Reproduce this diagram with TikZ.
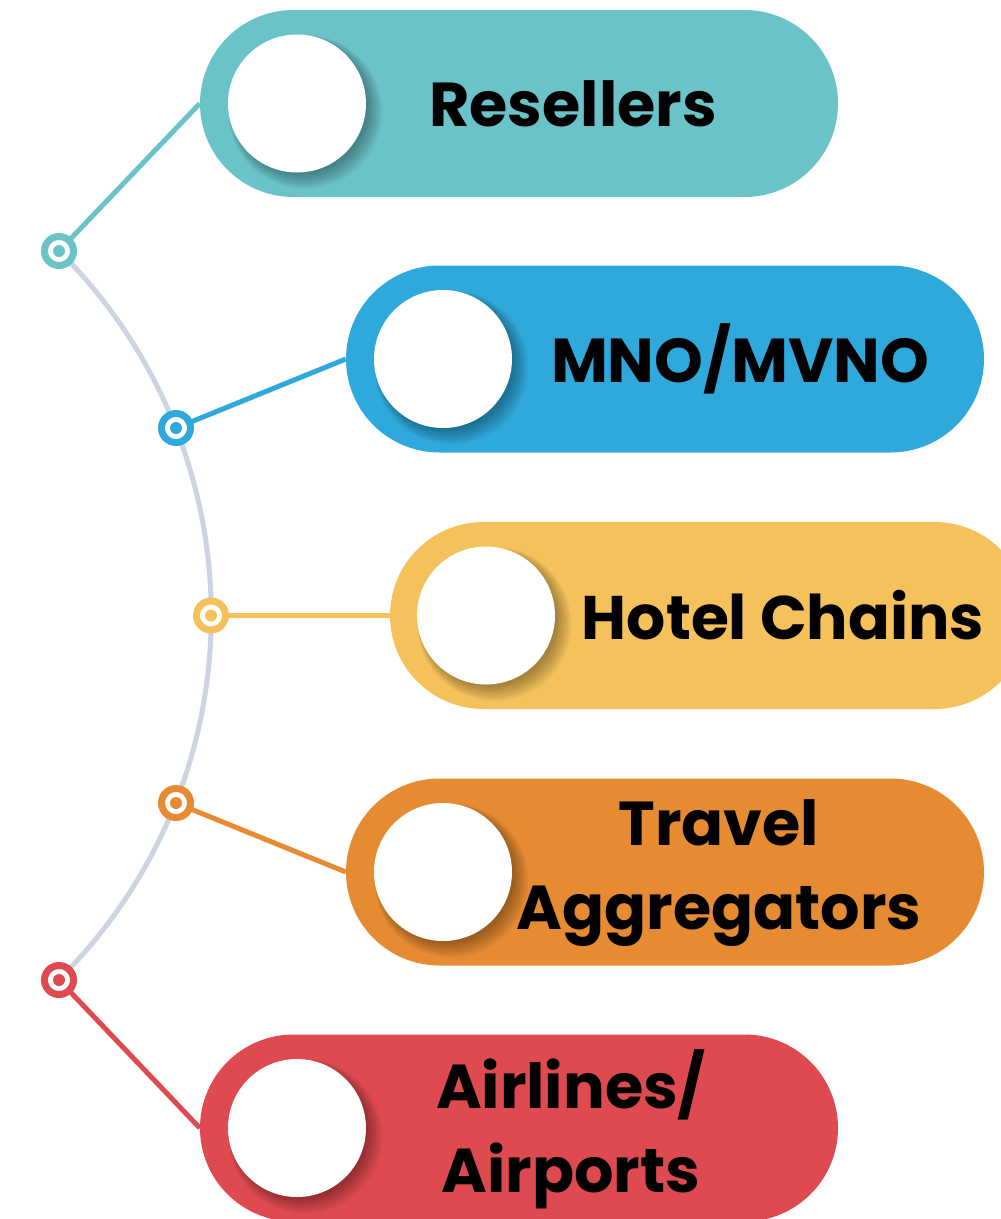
\documentclass[tikz,border=0pt]{standalone}
\usepackage{fontspec}
\setmainfont{Poppins}
\usetikzlibrary{calc,backgrounds}
\definecolor{cteal}{HTML}{6AC3C8}
\definecolor{cblue}{HTML}{2FA8DB}
\definecolor{cyel}{HTML}{F4C15B}
\definecolor{corg}{HTML}{E68B31}
\definecolor{cred}{HTML}{DE4A50}
\definecolor{carc}{HTML}{CDD3E3}
\tikzset{
  pill/.style={rounded corners=93.5pt, minimum width=638pt, minimum height=187pt, inner sep=0pt},
  ringnode/.style={circle, draw, line width=7pt, fill=white, minimum size=29pt, inner sep=0pt},
  dotnode/.style={circle, minimum size=12pt, inner sep=0pt},
  link/.style={line width=5pt},
  arcline/.style={line width=5pt, draw=carc},
  disc/.style={circle, fill=white, minimum size=138pt, inner sep=0pt},
  lbl/.style={font=\bfseries\fontsize{62}{84}\selectfont, align=center, text=black, inner sep=0pt},
}
\newcommand{\discshadow}[1]{%
  \foreach \k in {1,...,9}{\fill[black, opacity=0.04] ($(#1)+(3+0.6*\k,3+0.6*\k)$) circle[radius=66+1.2*\k];}}
\begin{document}
\begin{tikzpicture}[x=1pt,y=-1pt]
\useasboundingbox (0,0) rectangle (1001,1219);
\clip (0,0) rectangle (1001,1219);
% pills
\node[pill, fill=cteal] (p1) at (519,103.5) {};
\node[pill, fill=cblue] (p2) at (665,359) {};
\node[pill, fill=cyel] (p3) at (709,615.5) {};
\node[pill, fill=corg] (p4) at (665,872) {};
\node[pill, fill=cred] (p5) at (519,1128) {};
% rings
\node[ringnode, draw=cteal] (r1) at (59,251) {};
\node[ringnode, draw=cblue] (r2) at (176,428) {};
\node[ringnode, draw=cyel] (r3) at (211,615.5) {};
\node[ringnode, draw=corg] (r4) at (176,803) {};
\node[ringnode, draw=cred] (r5) at (59,980) {};
\node[dotnode, fill=cteal] (q1) at (r1) {};
\node[dotnode, fill=cblue] (q2) at (r2) {};
\node[dotnode, fill=cyel] (q3) at (r3) {};
\node[dotnode, fill=corg] (q4) at (r4) {};
\node[dotnode, fill=cred] (q5) at (r5) {};
% arc and connectors behind
\begin{scope}[on background layer]
\draw[arcline] (r1.center) arc[start angle=-45.37, end angle=45.37, radius=511.8];
\draw[link, cteal] (r1.center) -- (p1.west);
\draw[link, cblue] (r2.center) -- (p2.west);
\draw[link, cyel] (r3.center) -- (p3.west);
\draw[link, corg] (r4.center) -- (p4.west);
\draw[link, cred] (r5.center) -- (p5.west);
\end{scope}
% discs
\coordinate (c1) at (297,103.5);
\coordinate (c2) at (443,359);
\coordinate (c3) at (486,615.5);
\coordinate (c4) at (443,872);
\coordinate (c5) at (297,1128);
\discshadow{c1}\discshadow{c2}\discshadow{c3}\discshadow{c4}\discshadow{c5}
\node[disc] (d1) at (c1) {};
\node[disc] (d2) at (c2) {};
\node[disc] (d3) at (c3) {};
\node[disc] (d4) at (c4) {};
\node[disc] (d5) at (c5) {};
% labels
\node[lbl] (t1) at (573,103.5) {Resellers};
\node[lbl] (t2) at (740,359) {MNO/MVNO};
\node[lbl, font=\bfseries\fontsize{61.5}{84}\selectfont] (t3) at (783,615.5) {Hotel Chains};
\node[lbl] (t4) at (719,873) {Travel\\Aggregators};
\node[lbl] (t5) at (571,1129) {Airlines/\\Airports};
\end{tikzpicture}
\end{document}
